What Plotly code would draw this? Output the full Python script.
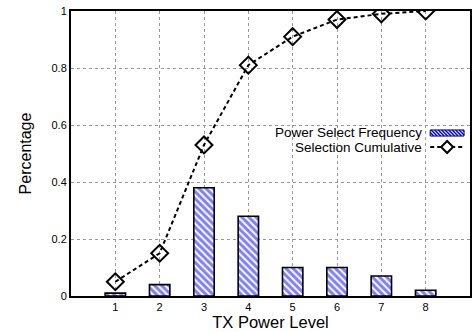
import plotly.graph_objects as go

levels = [1, 2, 3, 4, 5, 6, 7, 8]
freq = [0.01, 0.04, 0.38, 0.28, 0.10, 0.10, 0.07, 0.02]
cumulative = [0.05, 0.15, 0.53, 0.81, 0.91, 0.97, 0.99, 1.0]
ytick_vals = [0, 0.2, 0.4, 0.6, 0.8, 1.0]
ytick_text = ["0", "0.2", "0.4", "0.6", "0.8", "1"]

W, H = 474, 332
L, R, T, B = 71, 2, 11, 36
XR = (0, 9)
YR = (0, 1)
pw = W - L - R
ph = H - T - B

def px2x(px):
    return XR[0] + (px - L) / pw * (XR[1] - XR[0])

def py2y(py):
    return YR[0] + (H - B - py) / ph * (YR[1] - YR[0])

font = "Liberation Sans, Arial, Helvetica, sans-serif"

fig = go.Figure()
fig.add_trace(go.Bar(
    x=levels, y=freq, width=0.46,
    marker=dict(color="white", line=dict(color="black", width=1.6),
                pattern=dict(shape="\\", fgcolor="#0000ff", bgcolor="white",
                             size=5, solidity=0.6)),
    showlegend=False,
))
fig.add_trace(go.Scatter(
    x=levels, y=cumulative, mode="lines+markers",
    line=dict(color="black", width=2, dash="4px,3px"),
    marker=dict(symbol="diamond-open", size=13, color="black",
                line=dict(width=2, color="black")),
    showlegend=False,
))

shapes = []
# legend sample: hatched box
bx0, bx1, by0, by1 = 432, 466, 130, 136
shapes.append(dict(type="rect", xref="x", yref="y",
                   x0=px2x(bx0), x1=px2x(bx1), y0=py2y(by1), y1=py2y(by0),
                   line=dict(color="black", width=1), fillcolor="white", layer="above"))
hh = by1 - by0
sx = bx0 - hh
while sx < bx1:
    a0 = sx
    a1 = sx + hh
    xs, ys = a0, by0
    xe, ye = a1, by1
    if xs < bx0:
        ys = by0 + (bx0 - xs)
        xs = bx0
    if xe > bx1:
        ye = by1 - (xe - bx1)
        xe = bx1
    if xe > xs:
        shapes.append(dict(type="line", xref="x", yref="y",
                           x0=px2x(xs), y0=py2y(ys), x1=px2x(xe), y1=py2y(ye),
                           line=dict(color="#0000ff", width=1.5), layer="above"))
    sx += 3.5
# legend sample: dashed line with diamond
ly = 147
shapes.append(dict(type="line", xref="x", yref="y",
                   x0=px2x(432), y0=py2y(ly), x1=px2x(466), y1=py2y(ly),
                   line=dict(color="black", width=2, dash="4px,3px"), layer="above"))
dc = 449
d = 6
path = "M {} {} L {} {} L {} {} L {} {} Z".format(
    px2x(dc - d), py2y(ly), px2x(dc), py2y(ly - d),
    px2x(dc + d), py2y(ly), px2x(dc), py2y(ly + d))
shapes.append(dict(type="path", xref="x", yref="y", path=path,
                   line=dict(color="black", width=2), fillcolor="white", layer="above"))

annotations = [
    dict(x=px2x(425), y=py2y(132.5), xref="x", yref="y", text="Power Select Frequency",
         showarrow=False, xanchor="right", yanchor="middle", borderpad=0,
         font=dict(family=font, size=13.5, color="black")),
    dict(x=px2x(425), y=py2y(147.5), xref="x", yref="y", text="Selection Cumulative",
         showarrow=False, xanchor="right", yanchor="middle", borderpad=0,
         font=dict(family=font, size=13.5, color="black")),
]

fig.update_layout(
    width=W, height=H,
    margin=dict(l=L, r=R, t=T, b=B),
    plot_bgcolor="white", paper_bgcolor="white",
    font=dict(family=font, color="black"),
    shapes=shapes, annotations=annotations,
    showlegend=False,
    xaxis=dict(range=list(XR), tickvals=levels, ticktext=[str(v) for v in levels],
               showgrid=True, gridcolor="#999999", griddash="dot", gridwidth=1,
               showline=True, linecolor="black", linewidth=2, mirror=True,
               ticks="", zeroline=False, tickfont=dict(size=11),
               title=dict(text="TX Power Level", font=dict(size=16.5), standoff=3)),
    yaxis=dict(range=list(YR), tickvals=ytick_vals, ticktext=ytick_text,
               showgrid=True, gridcolor="#999999", griddash="dot", gridwidth=1,
               showline=True, linecolor="black", linewidth=2, mirror=True,
               ticks="", zeroline=False, tickfont=dict(size=11),
               title=dict(text="Percentage", font=dict(size=16), standoff=16)),
)

fig.write_html("out.html")
